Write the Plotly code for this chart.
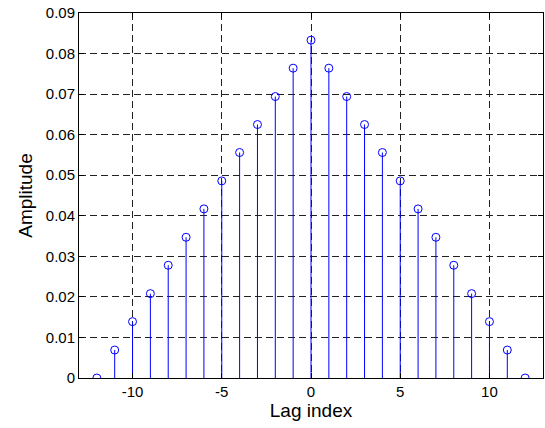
import plotly.graph_objects as go

lags = list(range(-12, 13))
amplitude = [0.0, 0.0069, 0.0139, 0.0208, 0.0278, 0.0347, 0.0417, 0.0486, 0.0556,
             0.0625, 0.0694, 0.0764, 0.0833, 0.0764, 0.0694, 0.0625, 0.0556, 0.0486,
             0.0417, 0.0347, 0.0278, 0.0208, 0.0139, 0.0069, 0.0]
x_ticks = [-10, -5, 0, 5, 10]
y_ticks = [0, 0.01, 0.02, 0.03, 0.04, 0.05, 0.06, 0.07, 0.08, 0.09]
y_labels = ["0", "0.01", "0.02", "0.03", "0.04", "0.05", "0.06", "0.07", "0.08", "0.09"]

sx, sy = [], []
for k, a in zip(lags, amplitude):
    sx += [k, k, None]
    sy += [0, a, None]

fig = go.Figure()
fig.add_trace(go.Scatter(x=sx, y=sy, mode="lines", line=dict(color="#0000ff", width=1),
                         hoverinfo="skip", showlegend=False))
fig.add_trace(go.Scatter(x=lags, y=amplitude, mode="markers",
                         marker=dict(symbol="circle-open", size=8, color="#0000ff",
                                     line=dict(width=1, color="#0000ff")),
                         showlegend=False))

axis_common = dict(showline=True, linecolor="black", linewidth=1, mirror="ticks",
                   ticks="inside", ticklen=5, tickcolor="black", automargin=False,
                   showgrid=True, gridcolor="#222222", griddash="7px,4px", gridwidth=1,
                   zeroline=False, tickfont=dict(family="Arial", size=15, color="black"))

fig.update_xaxes(range=[-13, 13], tickvals=x_ticks, ticktext=[str(v) for v in x_ticks],
                 title=dict(text="Lag index", font=dict(family="Arial", size=19, color="black"), standoff=1),
                 **axis_common)
fig.update_yaxes(range=[0, 0.09], tickvals=y_ticks, ticktext=y_labels,
                 title=dict(text="Amplitude", font=dict(family="Arial", size=19, color="black"), standoff=8),
                 **axis_common)

fig.update_layout(width=545, height=428, margin=dict(l=79, r=2, t=13, b=50),
                  plot_bgcolor="white", paper_bgcolor="white", showlegend=False)

fig.write_html("out.html", config={"displayModeBar": False},
               post_script="document.body.style.margin='0';document.body.style.overflow='hidden';")
